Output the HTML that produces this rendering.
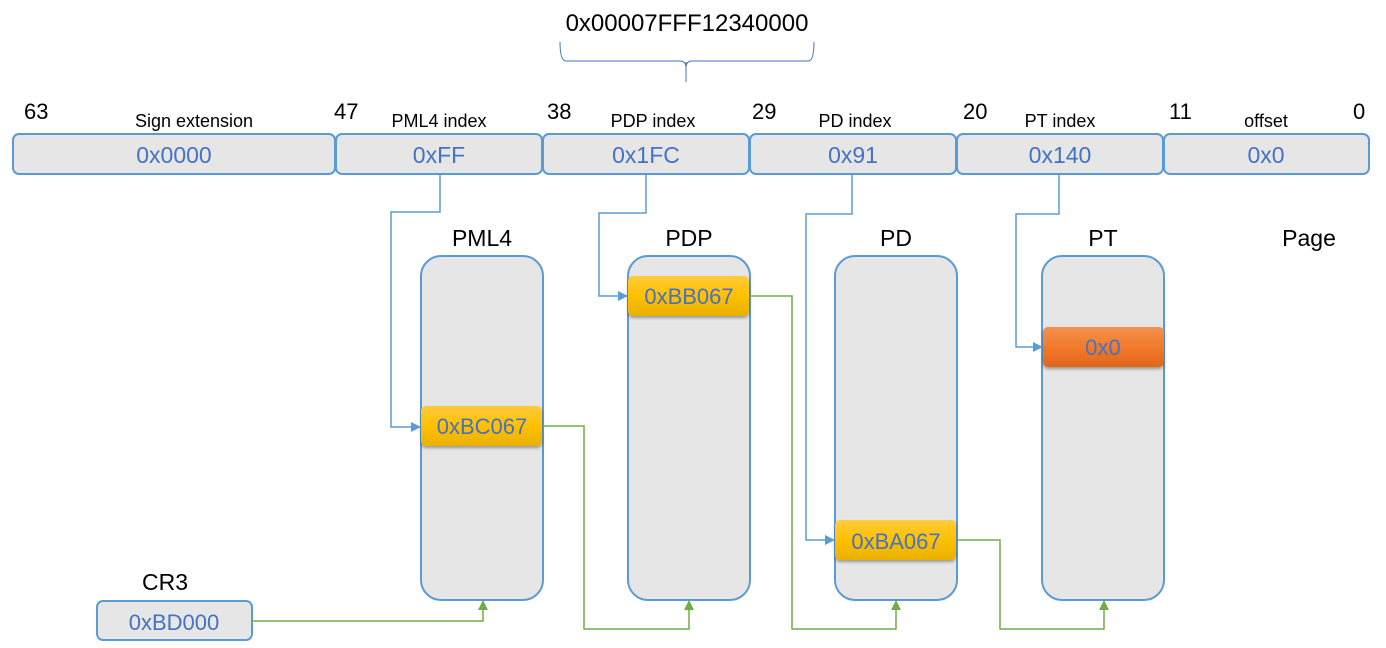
<!DOCTYPE html>
<html><head><meta charset="utf-8"><style>
html,body{margin:0;padding:0;background:#fff;}
svg{display:block;font-family:"Liberation Sans",sans-serif;}
</style></head><body>
<svg width="1386" height="648" viewBox="0 0 1386 648" xmlns="http://www.w3.org/2000/svg">
<defs>
<linearGradient id="yel" x1="0" y1="0" x2="0" y2="1"><stop offset="0" stop-color="#ffcb3d"/><stop offset="0.5" stop-color="#ffc000"/><stop offset="1" stop-color="#e8b000"/></linearGradient>
<linearGradient id="org" x1="0" y1="0" x2="0" y2="1"><stop offset="0" stop-color="#f3914f"/><stop offset="0.5" stop-color="#f27a2a"/><stop offset="1" stop-color="#e0651a"/></linearGradient>
<filter id="sh" x="-10%" y="-20%" width="120%" height="160%"><feDropShadow dx="0" dy="2" stdDeviation="1.5" flood-color="#000" flood-opacity="0.35"/></filter>
<marker id="ab" markerWidth="10" markerHeight="10" refX="9" refY="5" orient="auto" markerUnits="userSpaceOnUse"><path d="M0,0 L10,5 L0,10 z" fill="#5b9bd5"/></marker>
<marker id="ag" markerWidth="10" markerHeight="10" refX="9" refY="5" orient="auto" markerUnits="userSpaceOnUse"><path d="M0,0 L10,5 L0,10 z" fill="#70ad47"/></marker>
</defs>

<text x="687" y="31" font-size="24" text-anchor="middle" fill="#000">0x00007FFF12340000</text>
<path d="M560,42 Q560,61 566,61 L680,61 Q686,61 686,68 Q686,61 692,61 L808,61 Q814,61 814,42" fill="none" stroke="#4472c4" stroke-width="1"/>
<line x1="686" y1="62" x2="686" y2="82" stroke="#4472c4" stroke-width="1"/>

<g font-size="22" fill="#000">
<text x="24" y="119">63</text><text x="334" y="119">47</text><text x="547" y="119">38</text>
<text x="752" y="119">29</text><text x="963" y="119">20</text><text x="1169" y="119">11</text><text x="1353" y="119">0</text>
</g>
<g font-size="18" fill="#000" text-anchor="middle">
<text x="194" y="127">Sign extension</text><text x="439" y="127">PML4 index</text><text x="653" y="127">PDP index</text>
<text x="855" y="127">PD index</text><text x="1060" y="127">PT index</text><text x="1266" y="127">offset</text>
</g>
<g fill="#e6e6e6" stroke="#5b9bd5" stroke-width="2">
<rect x="13" y="134" width="322" height="40" rx="6"/>
<rect x="336" y="134" width="206" height="40" rx="6"/>
<rect x="543" y="134" width="206" height="40" rx="6"/>
<rect x="750" y="134" width="206" height="40" rx="6"/>
<rect x="957" y="134" width="206" height="40" rx="6"/>
<rect x="1164" y="134" width="205" height="40" rx="6"/>
</g>
<g font-size="23" fill="#4472c4" text-anchor="middle">
<text x="174" y="163">0x0000</text><text x="439" y="163">0xFF</text><text x="646" y="163">0x1FC</text>
<text x="853" y="163">0x91</text><text x="1060" y="163">0x140</text><text x="1266" y="163">0x0</text>
</g>

<g font-size="23" fill="#000" text-anchor="middle">
<text x="482" y="246">PML4</text><text x="689" y="246">PDP</text><text x="896" y="246">PD</text>
<text x="1103" y="246">PT</text><text x="1309" y="246">Page</text><text x="165" y="590">CR3</text>
</g>
<g fill="#e6e6e6" stroke="#5b9bd5" stroke-width="2">
<rect x="421" y="256" width="122" height="344" rx="20"/>
<rect x="628" y="256" width="122" height="344" rx="20"/>
<rect x="835" y="256" width="122" height="344" rx="20"/>
<rect x="1042" y="256" width="122" height="344" rx="20"/>
<rect x="97" y="601" width="155" height="39" rx="6"/>
</g>
<text x="174" y="630" font-size="22" fill="#4472c4" text-anchor="middle">0xBD000</text>

<g filter="url(#sh)">
<rect x="421" y="406" width="121" height="40" rx="5" fill="url(#yel)"/>
<rect x="628" y="276" width="121" height="40" rx="5" fill="url(#yel)"/>
<rect x="835" y="520" width="121" height="40" rx="5" fill="url(#yel)"/>
<rect x="1043" y="327" width="121" height="40" rx="5" fill="url(#org)"/>
</g>
<g font-size="22" fill="#4472c4" text-anchor="middle">
<text x="482" y="434">0xBC067</text><text x="689" y="304">0xBB067</text>
<text x="896" y="549">0xBA067</text><text x="1103" y="355">0x0</text>
</g>

<g fill="none" stroke="#5b9bd5" stroke-width="1.5">
<path d="M440,175 V212 H391 V427 H420" marker-end="url(#ab)"/>
<path d="M646,175 V213 H599 V296 H627" marker-end="url(#ab)"/>
<path d="M852,175 V214 H806 V540 H834" marker-end="url(#ab)"/>
<path d="M1059,175 V214 H1016 V347 H1042" marker-end="url(#ab)"/>
</g>
<g fill="none" stroke="#70ad47" stroke-width="1.5">
<path d="M252,621 H483 V601" marker-end="url(#ag)"/>
<path d="M543,426 H584 V629 H689 V601" marker-end="url(#ag)"/>
<path d="M750,296 H792 V629 H896 V601" marker-end="url(#ag)"/>
<path d="M957,540 H1000 V629 H1104 V601" marker-end="url(#ag)"/>
</g>
</svg>
</body></html>
